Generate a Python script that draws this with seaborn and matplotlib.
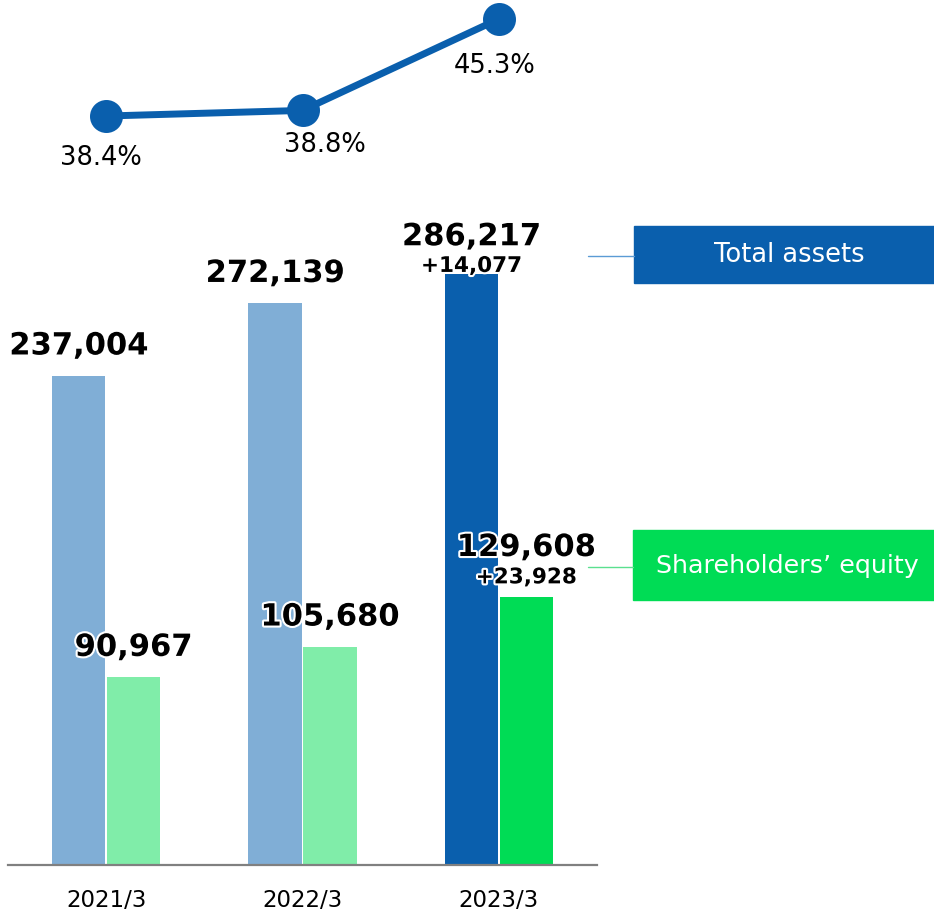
import seaborn as sns
import matplotlib.pyplot as plt
import matplotlib.patheffects as pe
from matplotlib.patches import Rectangle
import pandas as pd

# -----------------------------------------------------------
# Data (million yen)
# -----------------------------------------------------------
years = ["2021/3", "2022/3", "2023/3"]
total_assets = [237004, 272139, 286217]
equity = [90967, 105680, 129608]
equity_ratio = [38.4, 38.8, 45.3]
asset_change = 14077
equity_change = 23928

df = pd.DataFrame({
    "year": years * 2,
    "series": ["Total assets"] * 3 + ["Shareholders’ equity"] * 3,
    "value": total_assets + equity,
})

# colours
BLUE = "#0A5FAD"
BLUE_LIGHT = "#80AED6"
GREEN = "#00DC55"
GREEN_LIGHT = "#80EDA9"

sns.set_style("white")
plt.rcParams["font.family"] = ["DejaVu Sans"]
plt.rcParams["text.color"] = "black"
plt.rcParams["xtick.color"] = "black"

W, H = 934, 915
fig = plt.figure(figsize=(W / 100, H / 100), dpi=100)

# -----------------------------------------------------------
# Bars
# -----------------------------------------------------------
ax = fig.add_axes([8 / W, 50 / H, 589 / W, 665 / H])
ax.patch.set_alpha(0)
sns.barplot(data=df, x="year", y="value", hue="series",
            palette=[BLUE_LIGHT, GREEN_LIGHT], width=0.56, gap=0.03,
            legend=False, ax=ax, saturation=1, linewidth=0)
# highlight latest year
ax.containers[0][2].set_facecolor(BLUE)
ax.containers[1][2].set_facecolor(GREEN)

ax.set_xlim(-0.5, 2.5)
ax.set_ylim(0, 322200)
ax.set_xlabel("")
ax.set_ylabel("")
ax.set_yticks([])
for s in ["left", "right", "top"]:
    ax.spines[s].set_visible(False)
ax.spines["bottom"].set_color("#808080")
ax.spines["bottom"].set_linewidth(1.6)
ax.tick_params(axis="x", length=0, labelsize=16.5, pad=17, labelcolor="black")

halo = [pe.withStroke(linewidth=3, foreground="white")]


def label(bar, text, dy, size=22):
    x = bar.get_x() + bar.get_width() / 2
    ax.annotate(text, (x, bar.get_height()), xytext=(0, dy),
                textcoords="offset points", ha="center", va="center",
                fontsize=size, fontweight="bold", path_effects=halo,
                color="black", zorder=5)


for i in range(2):
    label(ax.containers[0][i], f"{total_assets[i]:,}", 21.5)
    label(ax.containers[1][i], f"{equity[i]:,}", 21.5)

label(ax.containers[0][2], f"{total_assets[2]:,}", 27)
label(ax.containers[0][2], f"+{asset_change:,}", 6, size=15.5)
label(ax.containers[1][2], f"{equity[2]:,}", 36)
label(ax.containers[1][2], f"+{equity_change:,}", 14.5, size=15.5)

# -----------------------------------------------------------
# Equity ratio line
# -----------------------------------------------------------
lx = fig.add_axes([8 / W, 715 / H, 589 / W, 200 / H])
lx.patch.set_alpha(0)
sns.pointplot(x=years, y=equity_ratio, color=BLUE, errorbar=None,
              markersize=20, linewidth=5, ax=lx)
lx.set_xlim(-0.5, 2.5)
lx.set_ylim(32.43, 46.65)
lx.axis("off")
offs = [(-4, -30), (16, -25), (-3, -34)]
for i, v in enumerate(equity_ratio):
    lx.annotate(f"{v}%", (i, v), xytext=offs[i], textcoords="offset points",
                ha="center", va="center", fontsize=18.5, color="black")

# -----------------------------------------------------------
# Series tags on the right
# -----------------------------------------------------------
ov = fig.add_axes([0, 0, 1, 1], zorder=-1)
ov.set_xlim(0, W)
ov.set_ylim(H, 0)
ov.axis("off")
ov.add_patch(Rectangle((634, 226), 300, 57, color=BLUE))
ov.text(789, 255, "Total assets", color="white", fontsize=18.5,
        ha="center", va="center")
ov.plot([588, 634], [256, 256], color="#5B9BD5", lw=1)
ov.add_patch(Rectangle((633, 530), 301, 70, color=GREEN))
ov.text(787, 566, "Shareholders’ equity", color="white", fontsize=18.3,
        ha="center", va="center")
ov.plot([588, 633], [567, 567], color="#5BE08F", lw=1)

plt.savefig("out.png", dpi=100)
